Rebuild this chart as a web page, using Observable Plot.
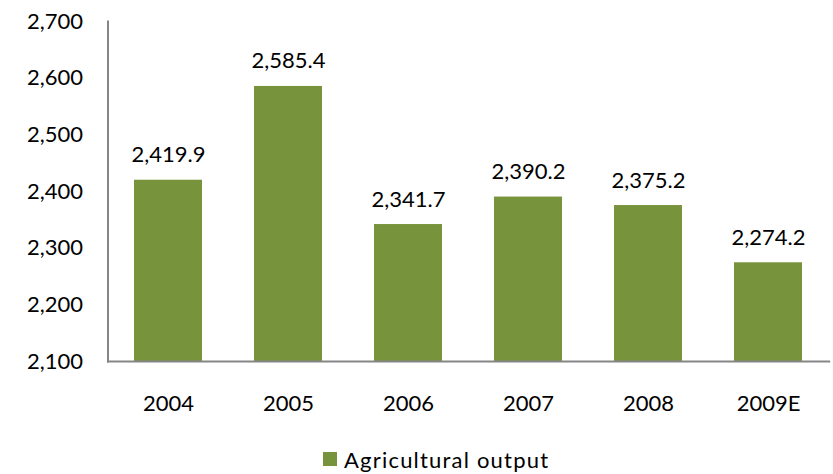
<!DOCTYPE html>
<html>
<head>
<meta charset="utf-8">
<script src="https://cdn.jsdelivr.net/npm/d3@7"></script>
<script src="https://cdn.jsdelivr.net/npm/@observablehq/plot@0.6"></script>
<style>
  html, body { margin: 0; padding: 0; background: #fff; }
  #chart { width: 833px; }
  .legend { display: flex; align-items: center; font-family: Lato, sans-serif; font-size: 22px; letter-spacing: 1.2px; color: #000; margin-left: 323px; margin-top: 8px; height: 30px; }
  .legend .sw { width: 14px; height: 14px; background: #77933C; margin-right: 7px; }
</style>
</head>
<body>
<div id="chart"></div>
<script>
const years = ["2004", "2005", "2006", "2007", "2008", "2009E"];
const output = [2419.9, 2585.4, 2341.7, 2390.2, 2375.2, 2274.2];
const yTicks = [2100, 2200, 2300, 2400, 2500, 2600, 2700];
const seriesName = "Agricultural output";

const data = years.map((y, i) => ({year: y, value: output[i]}));
const base = yTicks[0];
const fmtTick = d3.format(",");
const fmtVal = d3.format(",.1f");
const green = "#77933C";
const axisGray = "#868686";

const plot = Plot.plot({
  width: 833,
  height: 436,
  marginLeft: 107.5,
  marginRight: 4.3,
  marginTop: 21,
  marginBottom: 75,
  style: {fontFamily: "Lato, sans-serif", fontSize: "22px", color: "#000", background: "#fff"},
  x: {domain: years, paddingInner: 0.43, paddingOuter: 0.215, label: null},
  y: {domain: [yTicks[0], yTicks[yTicks.length - 1]], ticks: yTicks, label: null},
  marks: [
    Plot.barY(data, {x: "year", y1: () => base, y2: "value", fill: green}),
    Plot.text(data, {x: "year", y: "value", text: d => fmtVal(d.value), lineAnchor: "bottom", dy: -18, fontSize: 22, fill: "#000"}),
    Plot.axisY({ticks: yTicks, tickFormat: fmtTick, tickSize: 0, tickPadding: 25, fontSize: 22, label: null}),
    Plot.axisX({tickSize: 0, tickPadding: 34, fontSize: 22, label: null}),
    Plot.frame({anchor: "left", stroke: axisGray, strokeWidth: 2, strokeOpacity: 1}),
    Plot.frame({anchor: "bottom", stroke: axisGray, strokeWidth: 2, strokeOpacity: 1})
  ]
});
document.getElementById("chart").appendChild(plot);

const legend = document.createElement("div");
legend.className = "legend";
legend.innerHTML = `<span class="sw"></span><span>${seriesName}</span>`;
document.getElementById("chart").appendChild(legend);
</script>
</body>
</html>
